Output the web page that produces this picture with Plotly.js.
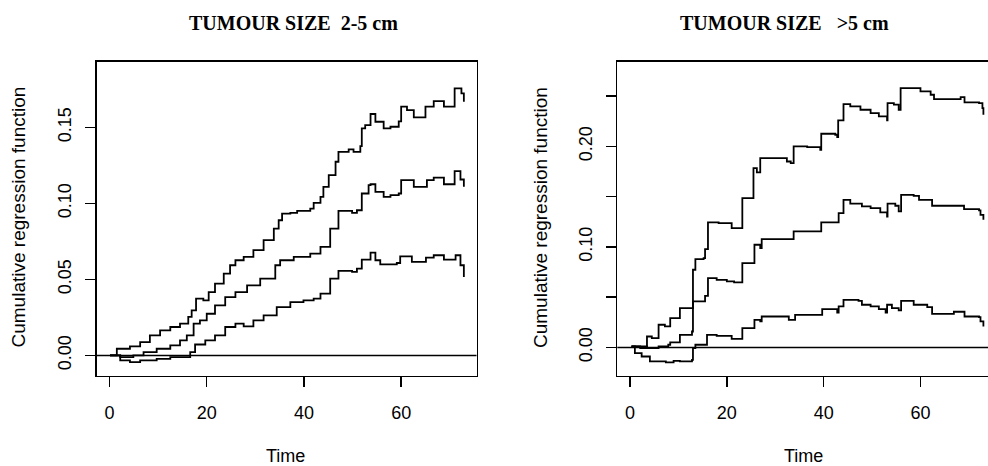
<!DOCTYPE html>
<html>
<head>
<meta charset="utf-8">
<script src="https://cdn.plot.ly/plotly-3.0.1.min.js"></script>
<style>
html,body{margin:0;padding:0;background:#fff;overflow:hidden;}
#chart{width:1000px;height:466px;}
</style>
</head>
<body>
<div id="chart"></div>
<script>
// ---- Panel 1: TUMOUR SIZE 2-5 cm ----
const leftUpperT = [0.1,1.5,4.2,6.3,8.3,10.4,12.5,14.5,16.2,16.9,17.8,19.3,20.4,21.7,23.5,24.8,25.9,27.6,29.6,31.7,33.8,34.8,35.5,37.2,38.6,41.3,42.0,43.4,44.0,45.1,46.5,47.1,49.2,50.2,51.6,51.9,52.6,53.7,54.7,56.4,57.8,59.5,60.0,61.2,62.6,65.0,66.7,68.8,71.0,72.4,72.9];
const leftUpperY = [0,0.0044,0.0059,0.0088,0.0132,0.0165,0.0187,0.0209,0.0253,0.0296,0.0373,0.0362,0.0417,0.0472,0.0538,0.0593,0.0626,0.0648,0.0692,0.0758,0.0834,0.0889,0.0933,0.0938,0.0951,0.0966,0.1004,0.1043,0.1109,0.1186,0.1274,0.1339,0.1355,0.1339,0.1377,0.1493,0.1515,0.1588,0.1537,0.1493,0.1504,0.1539,0.1636,0.1614,0.1566,0.1636,0.1673,0.1636,0.1757,0.1724,0.1669];

const leftMidT = [0.1,2.2,4.9,7.0,9.7,12.5,14.5,15.9,17.3,18.6,20.0,21.7,23.8,25.9,28.3,31.0,34.1,35.1,37.9,41.3,43.4,45.4,47.1,49.9,50.9,51.9,53.3,53.7,54.7,56.4,57.8,59.5,60.0,62.6,65.3,66.7,68.8,71.0,72.2,72.9];
const leftMidY = [0,-0.0011,0,0.0022,0.0044,0.0066,0.0099,0.0132,0.0209,0.0231,0.0274,0.0329,0.0384,0.0417,0.0461,0.0505,0.0593,0.0626,0.0648,0.067,0.0714,0.0834,0.0951,0.0938,0.0955,0.1065,0.112,0.1126,0.1076,0.1043,0.1054,0.1065,0.1153,0.1109,0.1153,0.117,0.1126,0.1212,0.1157,0.1109];

const leftLowT = [0.1,2.2,4.2,6.3,9.7,12.5,16.6,17.6,19.7,21.7,23.8,25.9,27.6,29.6,31.7,34.4,37.2,39.9,42.0,43.4,45.4,47.1,49.9,50.9,51.9,53.7,54.7,55.7,59.1,59.8,62.2,65.1,66.7,68.8,71.2,72.2,72.9];
const leftLowY = [0,-0.0033,-0.0044,-0.0033,-0.0022,-0.0011,0.0022,0.0072,0.0099,0.0132,0.0187,0.0209,0.0191,0.0231,0.0264,0.0318,0.0351,0.0362,0.0373,0.0406,0.0505,0.0556,0.0549,0.0571,0.063,0.0676,0.0626,0.0599,0.0608,0.0652,0.0615,0.0643,0.0659,0.063,0.0659,0.0593,0.0516];

// ---- Panel 2: TUMOUR SIZE >5 cm ----
const rightUpperT = [0.3,2.1,3.5,4.5,5.9,7.2,8.3,10.3,13.0,13.5,15.2,15.5,16.1,18.3,21.0,23.2,25.5,26.2,26.9,32.4,33.2,33.8,36.6,39.3,39.5,42.4,42.8,43.0,44.1,45.5,47.6,49.7,51.4,53.1,53.2,54.5,55.5,55.9,60.0,62.1,62.8,68.3,69.1,72.1,72.8,73.0];
const rightUpperY = [0.001,-0.0007,0.0109,0.0093,0.0226,0.0209,0.0292,0.0391,0.0773,0.0879,0.0889,0.0978,0.1244,0.1237,0.1187,0.1486,0.1784,0.1741,0.1884,0.185,0.1834,0.2,0.1993,0.1967,0.2126,0.2116,0.2093,0.2259,0.2421,0.2398,0.2365,0.2332,0.2299,0.2259,0.2431,0.2415,0.2365,0.258,0.2547,0.2514,0.2471,0.2491,0.2438,0.2431,0.2381,0.2315];

const rightMidT = [0.3,3.5,5.9,7.9,8.3,10.3,12.8,13.0,15.5,16.1,17.9,20.0,21.5,23.2,25.7,26.9,27.2,33.8,39.5,43.1,44.1,45.5,47.9,49.7,51.7,53.1,53.2,54.8,55.5,56.0,58.6,59.7,62.4,69.0,72.1,72.4,73.0];
const rightMidY = [0.001,-0.0007,0.001,0.0027,0.005,0.0126,0.0159,0.0458,0.0514,0.069,0.0673,0.0657,0.0647,0.0839,0.1022,0.0988,0.1078,0.1154,0.1244,0.1337,0.1469,0.143,0.1403,0.1386,0.1343,0.1303,0.143,0.141,0.1353,0.1519,0.1509,0.1469,0.141,0.1376,0.1363,0.132,0.127];

const rightLowT = [0.3,1.0,2.4,4.1,7.4,9.0,10.3,12.8,13.0,13.5,15.9,17.9,21.0,23.2,25.7,26.9,27.2,32.8,34.1,39.7,42.8,43.1,44.1,47.2,47.9,49.7,51.4,52.8,53.1,54.1,55.5,56.0,58.6,61.4,62.4,66.9,69.1,72.1,72.4,73.0];
const rightLowY = [0.001,-0.0056,-0.009,-0.0139,-0.0149,-0.0133,-0.0139,-0.0123,-0.0007,0.0027,0.0126,0.0116,0.0086,0.0192,0.0275,0.0259,0.0308,0.0275,0.0325,0.0381,0.0348,0.0408,0.0474,0.0464,0.0425,0.0408,0.0381,0.0348,0.0425,0.0391,0.0368,0.0464,0.0425,0.0401,0.0335,0.0355,0.0308,0.0302,0.0259,0.0209];

const xTicks = [0,20,40,60];
const leftYTicks = [0,0.05,0.10,0.15];
const leftYLabels = ['0.00','0.05','0.10','0.15'];
const rightYTicks = [0,0.05,0.10,0.15,0.20,0.25];
const rightYLabels = ['0.00','','0.10','','0.20',''];

const titles = ['TUMOUR SIZE&nbsp;&nbsp;2-5 cm','TUMOUR SIZE&nbsp;&nbsp;&nbsp;&gt;5 cm'];
const yTitle = 'Cumulative regression function';
const xTitle = 'Time';

const lineStyle = {color:'black', width:1.8, shape:'hv'};
function tr(x, y, xa, ya){
  return {x:x, y:y, type:'scatter', mode:'lines', line:lineStyle, xaxis:xa, yaxis:ya, hoverinfo:'skip'};
}
const data = [
  tr(leftUpperT, leftUpperY, 'x', 'y'),
  tr(leftMidT, leftMidY, 'x', 'y'),
  tr(leftLowT, leftLowY, 'x', 'y'),
  tr(rightUpperT, rightUpperY, 'x2', 'y2'),
  tr(rightMidT, rightMidY, 'x2', 'y2'),
  tr(rightLowT, rightLowY, 'x2', 'y2')
];

const tickFont = {family:'Liberation Sans, Arial, sans-serif', size:18, color:'black'};
const axBase = {
  showline:true, mirror:true, linecolor:'black', linewidth:1.6,
  ticks:'outside', ticklen:10, tickwidth:1.5, tickcolor:'black',
  showgrid:false, zeroline:false, tickfont:tickFont, fixedrange:true
};
const yDom = [1-375.5/466, 1-62/466];

const layout = {
  width:1000, height:466,
  margin:{l:0, r:0, t:0, b:0},
  paper_bgcolor:'white', plot_bgcolor:'white',
  showlegend:false,
  xaxis: Object.assign({}, axBase, {domain:[0.0967,0.4765], range:[-2.64,75.5], tickvals:xTicks, anchor:'y', ticklabelstandoff:10}),
  yaxis: Object.assign({}, axBase, {domain:yDom, range:[-0.0132,0.193], tickvals:leftYTicks, ticktext:leftYLabels, tickangle:-90, anchor:'x', ticklabelstandoff:7}),
  xaxis2: Object.assign({}, axBase, {domain:[0.6173,0.9955], range:[-2.63,75.5], tickvals:xTicks, anchor:'y2', ticklabelstandoff:10}),
  yaxis2: Object.assign({}, axBase, {domain:yDom, range:[-0.0279,0.284], tickvals:rightYTicks, ticktext:rightYLabels, tickangle:-90, anchor:'x2', ticklabelstandoff:7}),
  shapes: [
    {type:'line', xref:'x domain', yref:'y', x0:0, x1:1, y0:0, y1:0, line:{color:'black', width:1.5}},
    {type:'line', xref:'x2 domain', yref:'y2', x0:0, x1:1, y0:0, y1:0, line:{color:'black', width:1.5}}
  ],
  annotations: [
    {text:titles[0], xref:'paper', yref:'paper', x:0.2935, y:1-23.5/466, xanchor:'center', yanchor:'middle', showarrow:false, font:{family:'Liberation Serif, Times New Roman, serif', size:20, color:'black', weight:'bold'}},
    {text:titles[1], xref:'paper', yref:'paper', x:0.7845, y:1-23.5/466, xanchor:'center', yanchor:'middle', showarrow:false, font:{family:'Liberation Serif, Times New Roman, serif', size:20, color:'black', weight:'bold'}},
    {text:yTitle, xref:'paper', yref:'paper', x:0.018, y:1-217.5/466, xanchor:'center', yanchor:'middle', textangle:-90, showarrow:false, font:{family:'Liberation Sans, Arial, sans-serif', size:19, color:'black'}},
    {text:yTitle, xref:'paper', yref:'paper', x:0.5405, y:1-217.5/466, xanchor:'center', yanchor:'middle', textangle:-90, showarrow:false, font:{family:'Liberation Sans, Arial, sans-serif', size:19, color:'black'}},
    {text:xTitle, xref:'paper', yref:'paper', x:0.285, y:1-456/466, xanchor:'center', yanchor:'middle', showarrow:false, font:{family:'Liberation Sans, Arial, sans-serif', size:18, color:'black'}},
    {text:xTitle, xref:'paper', yref:'paper', x:0.8033, y:1-456/466, xanchor:'center', yanchor:'middle', showarrow:false, font:{family:'Liberation Sans, Arial, sans-serif', size:18, color:'black'}}
  ]
};

Plotly.newPlot('chart', data, layout, {displayModeBar:false, staticPlot:true});
</script>
</body>
</html>
